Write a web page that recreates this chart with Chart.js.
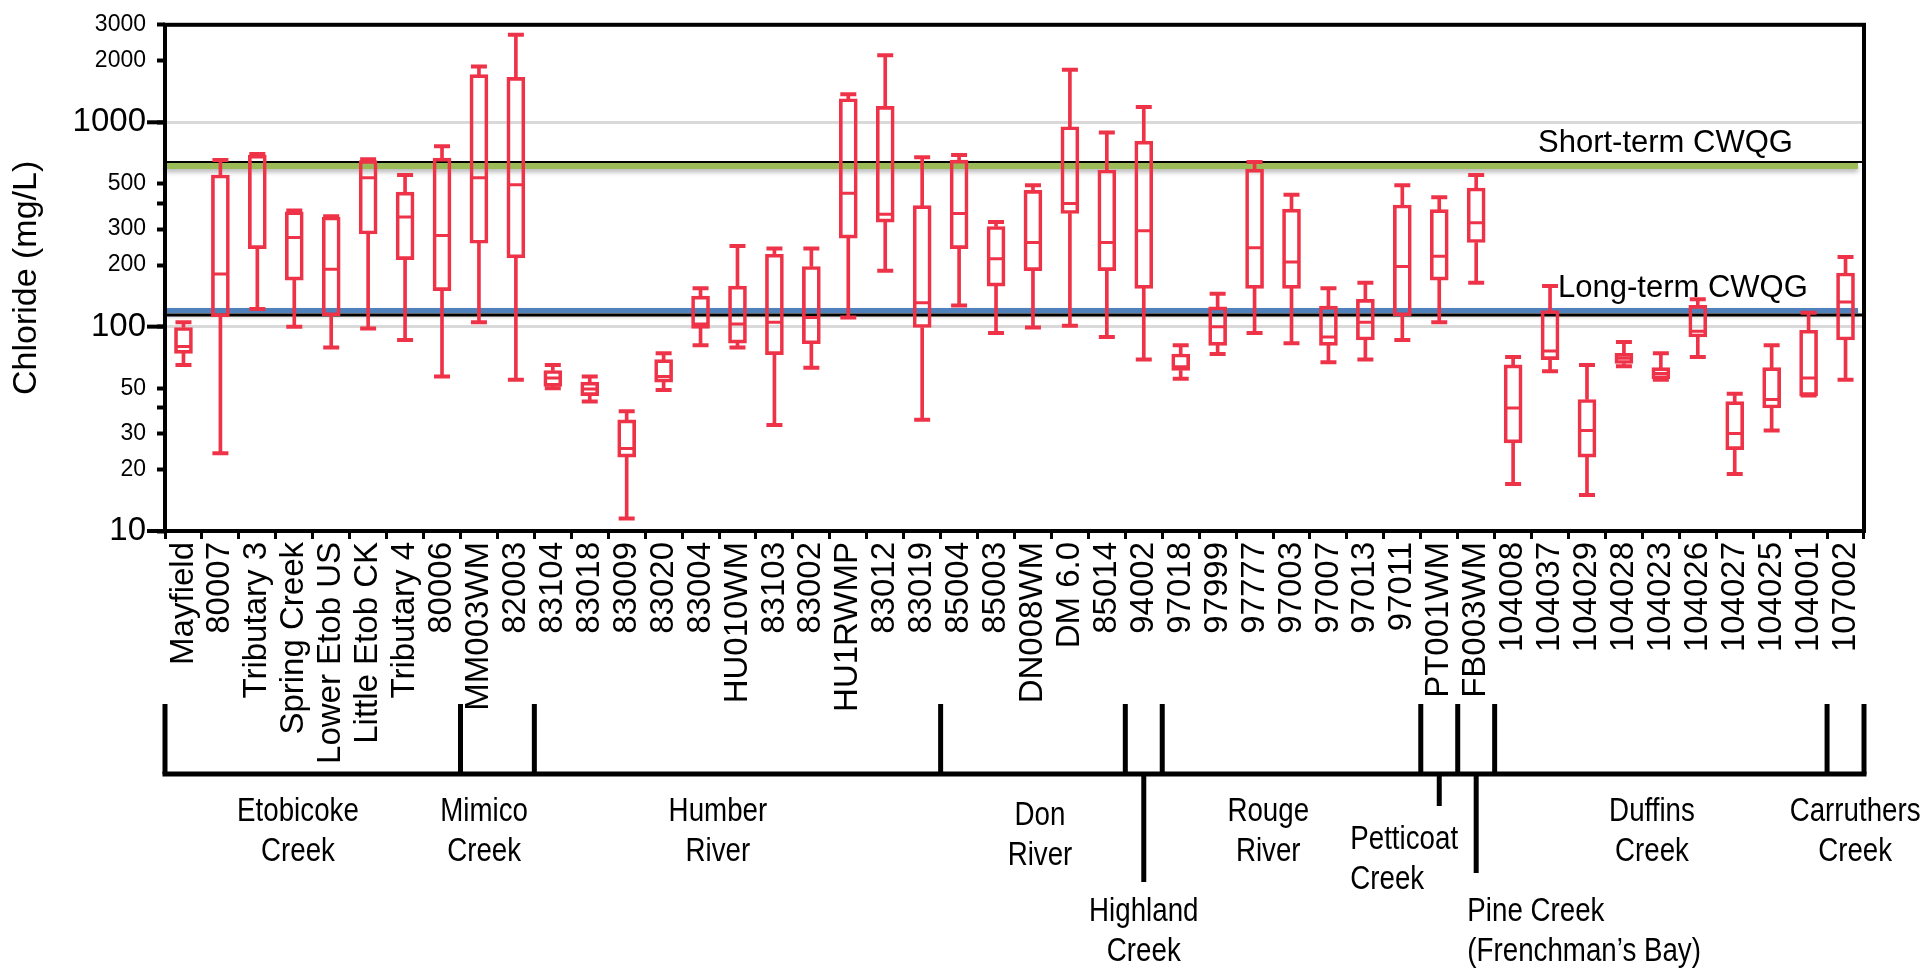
<!DOCTYPE html>
<html>
<head>
<meta charset="utf-8">
<title>Chloride by station</title>
<script src="https://cdn.jsdelivr.net/npm/chart.js@4.4.1/dist/chart.umd.min.js"></script>
<style>
  html, body { margin: 0; padding: 0; background: #fff; }
  canvas { display: block; }
</style>
</head>
<body>
<canvas id="chart" width="1920" height="972"></canvas>
<script>
const stations = [
  "Mayfield", "80007", "Tributary 3", "Spring Creek", "Lower Etob US", "Little Etob CK",
  "Tributary 4", "80006", "MM003WM", "82003", "83104", "83018", "83009", "83020",
  "83004", "HU010WM", "83103", "83002", "HU1RWMP", "83012", "83019", "85004", "85003",
  "DN008WM", "DM 6.0", "85014", "94002", "97018", "97999", "97777", "97003", "97007",
  "97013", "97011", "PT001WM", "FB003WM", "104008", "104037", "104029", "104028",
  "104023", "104026", "104027", "104025", "104001", "107002"
];
const maxValues = [
  105, 653, 700, 370, 347, 660, 552, 764, 1877, 2681, 65, 57, 38.6, 74,
  154, 248, 241, 241, 1370, 2130, 674, 692, 325, 492, 1806, 891, 1188,
  81, 145, 640, 442, 154, 164, 492, 430, 552, 71, 158, 65, 84, 74, 136,
  47, 81, 117, 219
];
const q3Values = [
  99, 552, 690, 365, 344, 650, 455, 668, 1711, 1660, 61, 53.5, 35, 69,
  141, 158, 226, 197, 1304, 1197, 391, 653, 309, 464, 951, 584, 809,
  73.5, 125, 590, 376, 126, 136, 394, 374, 477, 65, 120, 44, 74, 63, 127,
  43, 63, 96, 183
];
const medianValues = [
  80, 181, 685, 273, 191, 535, 344, 279, 535, 495, 56, 49.6, 25.3, 57,
  103, 103, 105, 111, 450, 355, 131, 358, 215, 258, 401, 258, 295,
  63.6, 100, 243, 207, 89, 105, 197, 221, 322, 40, 76, 31, 70, 59, 95,
  30, 44, 56, 132
];
const q1Values = [
  74, 112, 241, 169, 113, 284, 213, 150, 256, 217, 51, 46, 23, 53.5,
  98, 83, 73, 82.5, 271, 325, 99, 241, 158, 188, 358, 188, 154,
  61, 81, 154, 154, 81, 86, 113, 169, 258, 27, 69, 23, 66, 55.6, 89,
  25, 40, 46, 86
];
const minValues = [
  65, 24, 122, 100, 79, 98, 86, 57, 105, 55, 50, 43, 11.5, 49,
  81, 79, 33, 63, 111, 188, 35, 127, 93, 99, 101, 89, 69,
  55.6, 73.5, 93, 83, 67, 69, 86, 105, 164, 17, 60.5, 15, 64, 55, 71,
  19, 31, 46, 55
];
const yTickValues = [10, 20, 30, 40, 50, 100, 200, 300, 400, 500, 1000, 2000, 3000];
const yTickLabels = ["10", "20", "30", "", "50", "100", "200", "300", "", "500", "1000", "2000", "3000"];
const shortTermCWQG = 640;
const longTermCWQG = 120;
const watershedNames = [
  ["Etobicoke", "Creek"], ["Mimico", "Creek"], ["Humber", "River"], ["Don", "River"],
  ["Highland", "Creek"], ["Rouge", "River"], ["Petticoat", "Creek"],
  ["Pine Creek", "(Frenchman’s Bay)"], ["Duffins", "Creek"], ["Carruthers", "Creek"]
];
const watershedSizes = [8, 2, 11, 5, 1, 7, 1, 1, 9, 1];

const RED = "#ee3348";
const FONT = "'Liberation Sans', Arial, sans-serif";
const MAJOR = [10, 100, 1000];

// label placement for each watershed (x in category units)
const groupLabelLayout = [
  { at: 3.1, y: 812 }, { at: 8.14, y: 812 }, { at: 14.47, y: 812 }, { at: 23.19, y: 816 },
  { at: 26, y: 912, drop: 882 }, { at: 29.37, y: 812 },
  { at: 31.59, y: 840, align: "left", drop: 806 },
  { at: 34.76, y: 912, align: "left", drop: 873 },
  { at: 39.76, y: 812 }, { at: 45.26, y: 812 }
];

function hline(ctx, x1, x2, y, w, color) {
  ctx.beginPath();
  ctx.lineWidth = w;
  ctx.strokeStyle = color;
  ctx.moveTo(x1, y);
  ctx.lineTo(x2, y);
  ctx.stroke();
}
function vline(ctx, x, y1, y2, w, color) {
  ctx.beginPath();
  ctx.lineWidth = w;
  ctx.strokeStyle = color;
  ctx.moveTo(x, y1);
  ctx.lineTo(x, y2);
  ctx.stroke();
}
// condensed text: squeeze a normal face horizontally
function narrowText(ctx, t, x, y, align) {
  ctx.save();
  ctx.translate(x, y);
  ctx.scale(0.84, 1);
  ctx.textAlign = align;
  ctx.fillText(t, 0, 0);
  ctx.restore();
}

const annotations = {
  id: "annotations",
  beforeDatasetsDraw(chart) {
    const { ctx, chartArea: a, scales: { y } } = chart;
    const ys = y.getPixelForValue(shortTermCWQG);
    const yl = y.getPixelForValue(longTermCWQG);
    ctx.save();
    ctx.shadowColor = "rgba(0,0,0,0.3)";
    ctx.shadowBlur = 5;
    ctx.shadowOffsetY = 3;
    hline(ctx, a.left, a.right - 6, ys + 4, 6, "#9bbb59");
    hline(ctx, a.left, a.right - 6, yl, 5, "#4f81bd");
    ctx.shadowColor = "transparent";
    hline(ctx, a.left, a.right, ys, 2, "#000");
    hline(ctx, a.left, a.right, yl + 4.5, 3, "#000");

    ctx.fillStyle = "#000";
    ctx.font = "31px " + FONT;
    ctx.textAlign = "left";
    ctx.textBaseline = "alphabetic";
    ctx.fillText("Short-term CWQG", a.right - 326, ys - 10);
    ctx.fillText("Long-term CWQG", a.right - 306, yl - 13);
    ctx.restore();
  },
  afterDraw(chart) {
    const { ctx, chartArea: a, scales: { x, y } } = chart;
    ctx.save();
    // plot frame
    ctx.lineWidth = 4;
    ctx.strokeStyle = "#000";
    ctx.strokeRect(a.left, a.top, a.right - a.left, a.bottom - a.top);
    // long ticks at the decades
    MAJOR.forEach(v => hline(ctx, a.left - 18, a.left, y.getPixelForValue(v), 4, "#000"));

    // watershed brackets
    const baseY = 774, topY = 704;
    let edge = 0;
    const edges = [0];
    watershedSizes.forEach(n => { edge += n; edges.push(edge); });
    const px = i => x.getPixelForValue(i - 0.5);
    hline(ctx, px(0) - 2.5, px(edges[edges.length - 1]) + 2.5, baseY, 5, "#000");
    edges.forEach(e => vline(ctx, px(e), topY, baseY, 5, "#000"));

    ctx.fillStyle = "#000";
    ctx.font = "33px " + FONT;
    ctx.textBaseline = "middle";
    watershedNames.forEach((lines, g) => {
      const lay = groupLabelLayout[g];
      if (lay.drop) {
        const mid = (px(edges[g]) + px(edges[g + 1])) / 2;
        vline(ctx, mid, baseY, lay.drop, 5, "#000");
      }
      const lx = x.getPixelForValue(lay.at);
      lines.forEach((t, k) => narrowText(ctx, t, lx, lay.y + k * 40, lay.align || "center"));
    });
    ctx.restore();
  }
};

new Chart(document.getElementById("chart"), {
  type: "bar",
  data: {
    labels: stations,
    datasets: [
      {
        label: "lower whisker",
        data: minValues.map((v, i) => [v, q1Values[i]]),
        backgroundColor: RED,
        barThickness: 3,
        grouped: false,
        order: 5
      },
      {
        label: "upper whisker",
        data: q3Values.map((v, i) => [v, maxValues[i]]),
        backgroundColor: RED,
        barThickness: 3,
        grouped: false,
        order: 5
      },
      {
        label: "box",
        data: q1Values.map((v, i) => [v, q3Values[i]]),
        backgroundColor: "rgba(0,0,0,0)",
        borderColor: RED,
        borderWidth: 3,
        borderSkipped: false,
        barThickness: 18,
        grouped: false,
        order: 4
      },
      {
        type: "line",
        label: "median",
        data: medianValues,
        showLine: false,
        pointStyle: "line",
        pointRadius: 8,
        pointBorderWidth: 3,
        pointBorderColor: RED,
        order: 3
      },
      {
        type: "line",
        label: "max",
        data: maxValues,
        showLine: false,
        pointStyle: "line",
        pointRadius: 8,
        pointBorderWidth: 4,
        pointBorderColor: RED,
        order: 2
      },
      {
        type: "line",
        label: "min",
        data: minValues,
        showLine: false,
        pointStyle: "line",
        pointRadius: 8,
        pointBorderWidth: 4,
        pointBorderColor: RED,
        order: 2
      }
    ]
  },
  options: {
    responsive: false,
    animation: false,
    devicePixelRatio: 1,
    layout: { padding: { top: 15, right: 56, left: 0, bottom: 0 } },
    plugins: { legend: { display: false }, tooltip: { enabled: false } },
    scales: {
      x: {
        afterFit: s => { s.height = 441; },
        border: { display: false },
        grid: {
          drawOnChartArea: false,
          offset: true,
          tickLength: 8,
          tickWidth: 3,
          tickColor: "#000"
        },
        ticks: {
          autoSkip: false,
          minRotation: 90,
          maxRotation: 90,
          padding: 3,
          color: "#000",
          font: { family: FONT, size: 33 }
        }
      },
      y: {
        type: "logarithmic",
        min: 10,
        max: 3000,
        afterFit: s => { s.width = 165; },
        afterBuildTicks: s => { s.ticks = yTickValues.map(v => ({ value: v })); },
        border: { display: false },
        grid: {
          color: c => (c.tick && (c.tick.value === 100 || c.tick.value === 1000)) ? "#d9d9d9" : "rgba(0,0,0,0)",
          lineWidth: 3,
          tickLength: 8,
          tickWidth: 4,
          tickColor: "#000"
        },
        ticks: {
          autoSkip: false,
          padding: 11,
          color: "#000",
          callback: (v, i) => yTickLabels[i],
          font: c => ({ family: FONT, size: (c.tick && MAJOR.includes(c.tick.value)) ? 33 : 23 })
        },
        title: {
          display: true,
          text: "Chloride (mg/L)",
          color: "#000",
          padding: { top: 6, bottom: 0 },
          font: { family: FONT, size: 34 }
        }
      }
    }
  },
  plugins: [annotations]
});
</script>
</body>
</html>
